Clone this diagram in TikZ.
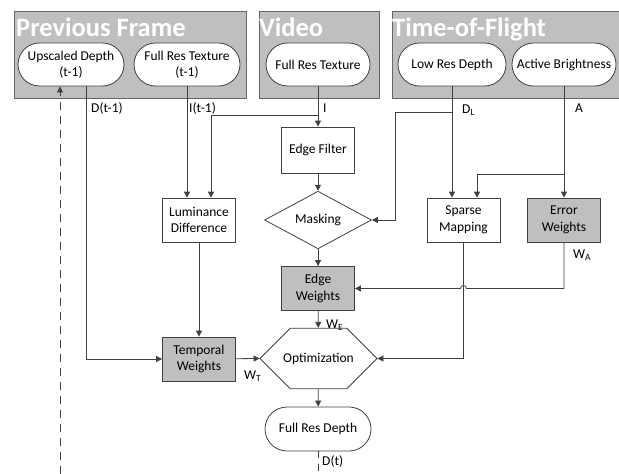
\documentclass[tikz,border=0pt]{standalone}
\usepackage{fontspec}
\setmainfont{Carlito}
\usetikzlibrary{arrows.meta,shapes.geometric,shapes.misc}

\begin{document}
\begin{tikzpicture}[x=1pt,y=-1pt,
	every node/.style={font=\fontsize{13.5}{16.5}\selectfont},
	grp/.style={draw=black!60,fill=gray!50,line width=0.8pt},
	ttl/.style={anchor=base west,inner sep=0pt,text=white,font=\fontsize{26.5}{30}\selectfont\bfseries},
	term/.style={rounded rectangle,draw=black!75,fill=white,line width=0.8pt,minimum width=108pt,minimum height=43pt,align=center,inner sep=1pt},
	proc/.style={rectangle,draw=black!75,fill=white,line width=0.8pt,minimum width=73pt,minimum height=44pt,align=center},
	wgt/.style={proc,fill=gray!50},
	dec/.style={diamond,draw=black!75,fill=white,line width=0.8pt,minimum width=107pt,minimum height=44pt,inner sep=0pt},
	opt/.style={chamfered rectangle,chamfered rectangle xsep=21pt,chamfered rectangle ysep=24.5pt,draw=black!75,fill=white,line width=0.8pt,minimum width=117pt,minimum height=49pt,inner sep=0pt},
	lbl/.style={anchor=west,inner sep=0pt},
	arr/.style={draw=black!75,line width=0.8pt,-{Triangle[length=6pt,width=6pt]}},
	ln/.style={draw=black!75,line width=0.8pt}]
	\useasboundingbox (0,0) rectangle (619,474);
	
	% sources
	\draw[grp] (14,11) rectangle (246,98);
	\draw[grp] (259,11) rectangle (379,98);
	\draw[grp] (392,11) rectangle (622,98);
	\node[ttl] (tpf) at (16,36) {Previous Frame};
	\node[ttl] (tv) at (259,36) {Video};
	\node[ttl] (ttof) at (392,36) {Time-of-Flight};
	
	\node[term] (ud) at (71,64.5) {Upscaled Depth\\(t-1)};
	\node[term] (ft) at (187,64.5) {Full Res Texture\\(t-1)};
	\node[term,minimum width=106pt] (vt) at (318,64.5) {Full Res Texture};
	\node[term,minimum width=110pt] (lrd) at (452,64.5) {Low Res Depth};
	\node[term,minimum width=106pt] (ab) at (564,64.5) {Active Brightness};
	
	% processing
	\node[proc,minimum height=46pt] (ef) at (318,150) {Edge Filter};
	\node[proc] (lum) at (199,220) {Luminance\\Difference};
	\node[dec] (mk) at (318,220) {Masking};
	\node[proc] (sm) at (463.5,220) {Sparse\\Mapping};
	\node[wgt] (ew) at (564,220) {Error\\Weights};
	\node[wgt] (eg) at (318,288.5) {Edge\\Weights};
	\node[wgt] (tw) at (199,359) {Temporal\\Weights};
	\node[opt] (op) at (318.5,358.5) {Optimization};
	\node[term,minimum height=44pt] (frd) at (318,429) {Full Res Depth};
	
	% branch points and free ends
	\coordinate (ib) at (318,115);
	\coordinate (dlb) at (452,112);
	\coordinate (dlc) at (395,112);
	\coordinate (abr) at (564,174);
	\coordinate (dsrc) at (60,474);
	\coordinate (dend) at (318,474);
	
	\draw[arr] ([xshift=15pt]ud.south) |- (tw.west);
	\draw[arr,dash pattern=on 8pt off 6pt] (dsrc) -- ([xshift=-11pt]ud.south);
	\draw[arr] (ft.south) -- (ft.south |- lum.north);
	\draw[arr] (vt.south) -- (ef.north);
	\draw[arr] (ib) -| ([xshift=12pt]lum.north);
	\draw[arr] (ef) -- (mk);
	\draw[arr] (lrd.south) -- (lrd.south |- sm.north);
	\draw[arr] (dlb) -- (dlc) |- (mk.east);
	\draw[arr] (ab.south) -- (ew.north);
	\draw[arr] (abr) -| ([xshift=13.5pt]sm.north);
	\draw[arr] (mk) -- (eg);
	\draw[arr] (ew.south) |- ([xshift=3pt]sm.south |- eg.east) .. controls +(0,-4) and +(0,-4) .. ([xshift=-3pt]sm.south |- eg.east) -- (eg.east);
	\draw[arr] (lum) -- (tw);
	\draw[arr] (eg) -- (op);
	\draw[arr] (sm.south) |- (op.east);
	\draw[arr] (tw) -- (op.west);
	\draw[arr] (op) -- (frd);
	\draw[ln,dash pattern=on 7pt off 6pt] (frd.south) -- (dend);
	
	% labels
	\node[lbl] (ldt) at (91,108) {D(t-1)};
	\node[lbl] (lit) at (189,108) {I(t-1)};
	\node[lbl] (li) at (323,108) {I};
	\node[lbl] (ldl) at (462,110) {D\textsubscript{L}};
	\node[lbl] (la) at (575,108) {A};
	\node[lbl] (lwa) at (573,255) {W\textsubscript{A}};
	\node[lbl] (lwe) at (326,325) {W\textsubscript{E}};
	\node[lbl] (lwt) at (244,376) {W\textsubscript{T}};
	\node[lbl] (ld) at (322,461) {D(t)};
\end{tikzpicture}
\end{document}
